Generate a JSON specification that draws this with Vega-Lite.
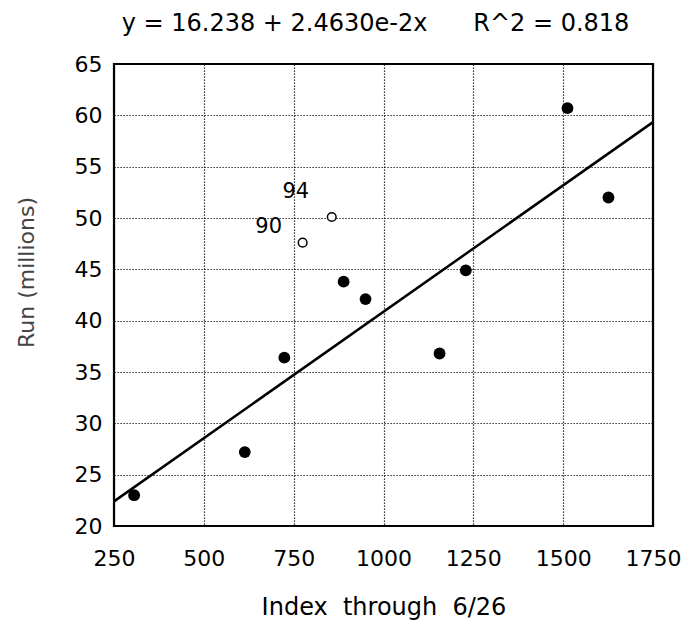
{
  "$schema": "https://vega.github.io/schema/vega-lite/v6.json",
  "width": 539,
  "height": 462,
  "autosize": "none",
  "padding": {"left": 114, "top": 64, "right": 34, "bottom": 99},
  "background": "white",
  "config": {
    "font": "DejaVu Sans",
    "view": {"stroke": "black", "strokeWidth": 2.2},
    "axis": {
      "domain": false,
      "ticks": false,
      "grid": true,
      "gridColor": "black",
      "gridDash": [1.2, 1.8],
      "gridWidth": 1.2,
      "gridOpacity": 1,
      "labelFont": "DejaVu Sans",
      "labelFontSize": 22,
      "labelColor": "black",
      "labelFlush": false,
      "labelOverlap": false,
      "labelBound": false,
      "titleFont": "DejaVu Sans",
      "titleFontWeight": "normal",
      "titleColor": "#222"
    }
  },
  "title": {
    "text": "y = 16.238 + 2.4630e-2x\u00a0\u00a0\u00a0\u00a0\u00a0\u00a0R^2 = 0.818",
    "font": "DejaVu Sans",
    "fontSize": 24,
    "fontWeight": "normal",
    "color": "black",
    "anchor": "middle",
    "frame": "group",
    "offset": 17,
    "dx": -8
  },
  "datasets": {
    "pts": [
      {"index": 306, "run": 23.0, "type": "filled", "label": ""},
      {"index": 614, "run": 27.2, "type": "filled", "label": ""},
      {"index": 724, "run": 36.4, "type": "filled", "label": ""},
      {"index": 889, "run": 43.8, "type": "filled", "label": ""},
      {"index": 950, "run": 42.1, "type": "filled", "label": ""},
      {"index": 1156, "run": 36.8, "type": "filled", "label": ""},
      {"index": 1229, "run": 44.9, "type": "filled", "label": ""},
      {"index": 1512, "run": 60.7, "type": "filled", "label": ""},
      {"index": 1626, "run": 52.0, "type": "filled", "label": ""},
      {"index": 775, "run": 47.6, "type": "open", "label": "90"},
      {"index": 856, "run": 50.1, "type": "open", "label": "94"}
    ],
    "fit": [
      {"index": 250, "run": 22.396},
      {"index": 1750, "run": 59.341}
    ]
  },
  "layer": [
    {
      "data": {"name": "fit"},
      "mark": {"type": "line", "color": "black", "strokeWidth": 2.5, "clip": true},
      "encoding": {
        "x": {
          "field": "index", "type": "quantitative",
          "scale": {"domain": [250, 1750], "nice": false, "zero": false},
          "axis": {
            "values": [250, 500, 750, 1000, 1250, 1500, 1750],
            "format": "d",
            "labelPadding": 22,
            "title": "Index\u00a0\u00a0through\u00a0\u00a06/26",
            "titleFontSize": 24,
            "titleY": 81,
            "titleBaseline": "middle",
            "titleColor": "black"
          }
        },
        "y": {
          "field": "run", "type": "quantitative",
          "scale": {"domain": [20, 65], "nice": false, "zero": false},
          "axis": {
            "values": [20, 25, 30, 35, 40, 45, 50, 55, 60, 65],
            "format": "d",
            "labelPadding": 12,
            "title": "Run (millions)",
            "titleFontSize": 22,
            "titleColor": "#444",
            "titleX": -88,
            "titleY": 208,
            "titleAngle": -90,
            "titleAlign": "center",
            "titleBaseline": "middle"
          }
        }
      }
    },
    {
      "data": {"name": "pts"},
      "transform": [{"filter": "datum.type === 'filled'"}],
      "mark": {"type": "point", "shape": "circle", "filled": true, "color": "black", "size": 140, "opacity": 1},
      "encoding": {
        "x": {"field": "index", "type": "quantitative"},
        "y": {"field": "run", "type": "quantitative"}
      }
    },
    {
      "data": {"name": "pts"},
      "transform": [{"filter": "datum.type === 'open'"}],
      "mark": {"type": "point", "shape": "circle", "filled": false, "fill": "white", "stroke": "black", "strokeWidth": 1.5, "size": 75, "opacity": 1},
      "encoding": {
        "x": {"field": "index", "type": "quantitative"},
        "y": {"field": "run", "type": "quantitative"}
      }
    },
    {
      "data": {"name": "pts"},
      "transform": [{"filter": "datum.label === '94'"}],
      "mark": {"type": "text", "font": "DejaVu Sans", "fontSize": 21, "color": "black", "dx": -36, "dy": -25, "align": "center", "baseline": "middle"},
      "encoding": {
        "x": {"field": "index", "type": "quantitative"},
        "y": {"field": "run", "type": "quantitative"},
        "text": {"field": "label"}
      }
    },
    {
      "data": {"name": "pts"},
      "transform": [{"filter": "datum.label === '90'"}],
      "mark": {"type": "text", "font": "DejaVu Sans", "fontSize": 21, "color": "black", "dx": -34, "dy": -16, "align": "center", "baseline": "middle"},
      "encoding": {
        "x": {"field": "index", "type": "quantitative"},
        "y": {"field": "run", "type": "quantitative"},
        "text": {"field": "label"}
      }
    }
  ]
}
